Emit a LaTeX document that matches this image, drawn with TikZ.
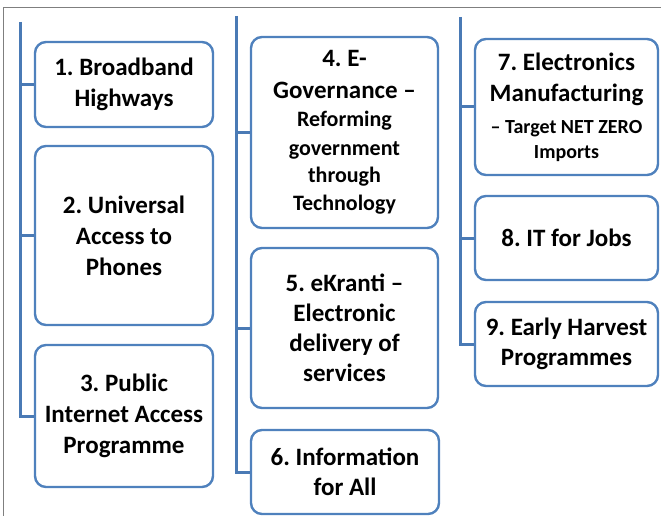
\documentclass[tikz,border=0pt]{standalone}
\usepackage{fontspec}
\setmainfont{Carlito}
\frenchspacing
\definecolor{boxblue}{HTML}{4F81BD}
\definecolor{spineblue}{HTML}{4A7AB5}
\definecolor{framegray}{HTML}{7F7F7F}
\begin{document}
\begin{tikzpicture}[x=1pt,y=-1pt,
  item/.style={draw=boxblue, line width=2.4pt, rounded corners=11pt, fill=white,
    inner sep=0pt, align=flush center, font=\bfseries\fontsize{25}{31}\selectfont},
  spine/.style={draw=spineblue, line width=3pt},
  framerule/.style={draw=framegray, line width=1.2pt}]
\useasboundingbox (0,0) rectangle (661,516);

% outer frame (top and left edges)
\coordinate (fa) at (3.5,516);
\coordinate (fb) at (3.5,7.5);
\coordinate (fc) at (661,7.5);
\draw[framerule] (fa) -- (fb) -- (fc);

% column 1
\node[item, minimum width=178pt, minimum height=85pt, text width=174pt] (b1) at (124,84.5)
  {1. Broadband\\Highways};
\node[item, minimum width=178pt, minimum height=179pt, text width=174pt] (b2) at (124,235.5)
  {2. Universal\\Access to\\Phones};
\node[item, minimum width=178pt, minimum height=142pt, text width=174pt] (b3) at (124,416)
  {3. Public\\Internet Access\\Programme};

% column 2
\node[item, minimum width=187pt, minimum height=191pt, text width=183pt,
  font=\bfseries\fontsize{22}{28.5}\selectfont] (b4) at (344.5,132.5)
  {{\fontsize{25}{31}\selectfont 4. E-}\\[3pt]
   {\fontsize{25}{31}\selectfont Governance –}\\
   Reforming\\government\\[-1pt]through\\[-1pt]Technology};
\node[item, minimum width=187pt, minimum height=160pt, text width=183pt] (b5) at (344.5,328)
  {5. eKranti –\\[-1pt]Electronic\\[-1pt]delivery of\\[-1pt]services};
\node[item, minimum width=188pt, minimum height=84pt, text width=184pt] (b6) at (345,472)
  {6. Information\\[-1pt]for All};

% column 3
\node[item, minimum width=183pt, minimum height=136pt, text width=179pt] (b7) at (566.5,107)
  {7. Electronics\\Manufacturing\\[1pt]
   {\fontsize{20}{25}\selectfont – Target NET ZERO}\\[-6pt]
   {\fontsize{20}{25}\selectfont Imports}};
\node[item, minimum width=183pt, minimum height=84pt, text width=179pt] (b8) at (566.5,238)
  {8. IT for Jobs};
\node[item, minimum width=183pt, minimum height=84pt, text width=179pt] (b9) at (566.5,344)
  {9. Early Harvest\\[-1pt]Programmes};

% spines with branch stubs
\coordinate (s1) at (20,22);
\coordinate (s2) at (236,16);
\coordinate (s3) at (460,17);
\draw[spine] (s1) |- (b3.west);
\draw[spine] (b1.west) -- (b1.west -| s1);
\draw[spine] (b2.west) -- (b2.west -| s1);
\draw[spine] (s2) |- (b6.west);
\draw[spine] (b4.west) -- (b4.west -| s2);
\draw[spine] (b5.west) -- (b5.west -| s2);
\draw[spine] (s3) |- (b9.west);
\draw[spine] (b7.west) -- (b7.west -| s3);
\draw[spine] (b8.west) -- (b8.west -| s3);
\end{tikzpicture}
\end{document}
